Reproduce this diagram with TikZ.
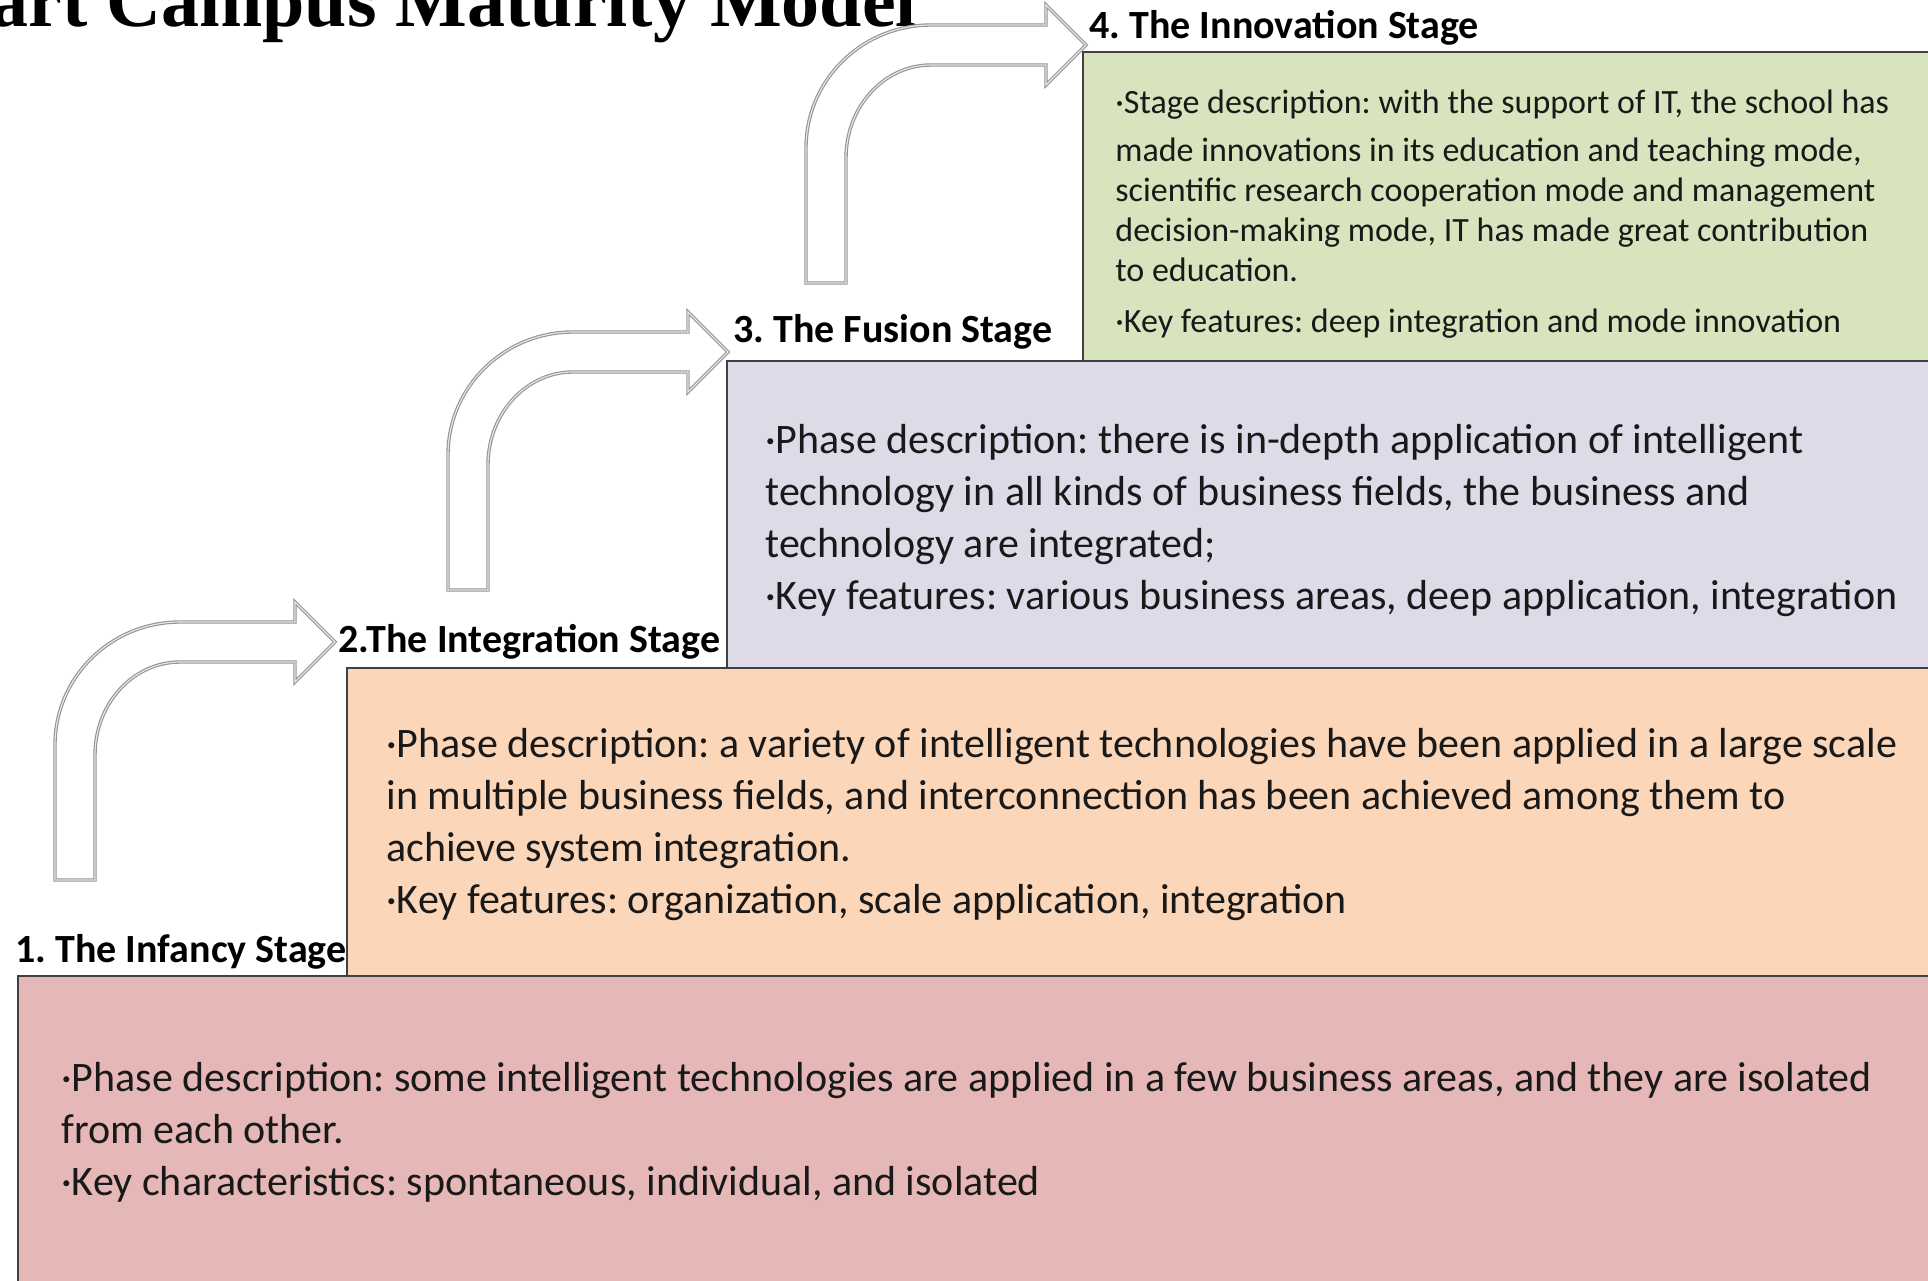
\documentclass[tikz,border=0pt]{standalone}
\usepackage{fontspec}
\setmainfont{Carlito}
\newfontfamily\titlefont{Liberation Serif}
\usepackage{tikz}

\definecolor{infancyred}{HTML}{E5B8B7}
\definecolor{integrationorange}{HTML}{FBD6B8}
\definecolor{fusionpurple}{HTML}{DFDAE8}
\definecolor{innovationgreen}{HTML}{D7E4BD}

\begin{document}
\frenchspacing
\begin{tikzpicture}[x=0.5pt,y=-0.5pt,
  stagebox/.style={draw=black!75,line width=1pt},
  stagelabel/.style={anchor=base west,inner sep=0pt,font=\bfseries\fontsize{20pt}{24pt}\selectfont},
  stagetext/.style={anchor=north west,inner sep=0pt,align=left,text=black!90,font=\fontsize{21pt}{26pt}\selectfont},
  bentarrow/.style={draw=gray!85,double=gray!20,double distance=0.6pt,line width=0.55pt,fill=white}]
  \useasboundingbox (0,0) rectangle (1928,1280);
  \clip (0,0) rectangle (1928,1280);

  \node[anchor=base west,inner sep=0pt,font=\titlefont\bfseries\fontsize{38pt}{40pt}\selectfont] (title) at (-10,26) {art Campus Maturity Model};

  \draw[stagebox,fill=innovationgreen] (1083,52) rectangle (1940,361);
  \draw[stagebox,fill=fusionpurple] (727,361) rectangle (1940,668);
  \draw[stagebox,fill=integrationorange] (347,668) rectangle (1940,976);
  \draw[stagebox,fill=infancyred] (18,976) rectangle (1940,1290);

  \foreach \ax/\ay in {55/880,448/590,806/283}
    \draw[bentarrow,shift={(\ax,\ay)}] (0,0) -- (0,-135)
      arc[start angle=180,end angle=270,x radius=125,y radius=123]
      -- (240,-258) -- (240,-278) -- (280,-238) -- (240,-198) -- (240,-218) -- (125,-218)
      arc[start angle=270,end angle=180,x radius=85,y radius=93]
      -- (40,0) -- cycle;

  \node[stagelabel] (infancy) at (15,962) {1. The Infancy Stage};
  \node[stagelabel] (integration) at (338,652) {2.The Integration Stage};
  \node[stagelabel] (fusion) at (733,342) {3. The Fusion Stage};
  \node[stagelabel] (innovation) at (1089,38) {4. The Innovation Stage};

  \node[stagetext] (infancytext) at (61,1062) {·Phase description: some intelligent technologies are applied in a few business areas, and they are isolated\\
    from each other.\\
    ·Key characteristics: spontaneous, individual, and isolated};
  \node[stagetext] (integrationtext) at (386,728) {·Phase description: a variety of intelligent technologies have been applied in a large scale\\
    in multiple business fields, and interconnection has been achieved among them to\\
    achieve system integration.\\
    ·Key features: organization, scale application, integration};
  \node[stagetext] (fusiontext) at (765,424) {·Phase description: there is in-depth application of intelligent\\
    technology in all kinds of business fields, the business and\\
    technology are integrated;\\
    ·Key features: various business areas, deep application, integration};
  \node[stagetext,font=\fontsize{17pt}{20pt}\selectfont] (innovationtext) at (1115,89) {·Stage description: with the support of IT, the school has\\[4pt]
    made innovations in its education and teaching mode,\\
    scientific research cooperation mode and management\\
    decision-making mode, IT has made great contribution\\
    to education.\\[5.5pt]
    ·Key features: deep integration and mode innovation};
\end{tikzpicture}
\end{document}
